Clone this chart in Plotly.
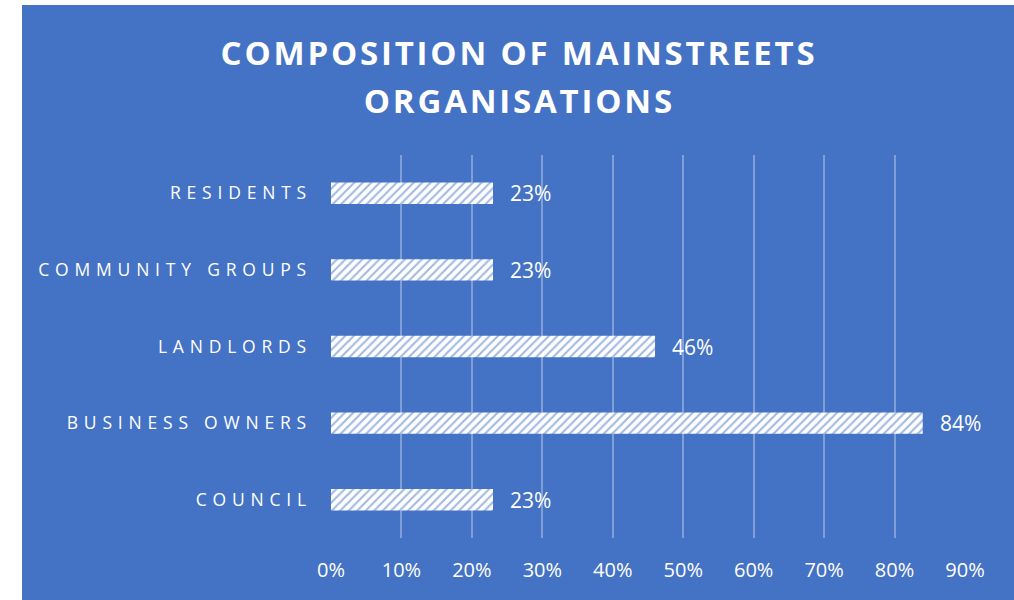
import plotly.graph_objects as go

categories = ["COUNCIL", "BUSINESS OWNERS", "LANDLORDS", "COMMUNITY GROUPS", "RESIDENTS"]
values = [0.23, 0.84, 0.46, 0.23, 0.23]
value_labels = ["23%", "84%", "46%", "23%", "23%"]
tick_vals = [0, 0.1, 0.2, 0.3, 0.4, 0.5, 0.6, 0.7, 0.8, 0.9]
tick_text = ["0%", "10%", "20%", "30%", "40%", "50%", "60%", "70%", "80%", "90%"]
title_lines = ["COMPOSITION OF MAINSTREETS", "ORGANISATIONS"]

BLUE = "#4472C4"
W, H = 1014, 600
L, R, T, B = 331, 49, 155, 62
pw, ph = W - L - R, H - T - B

fig = go.Figure(go.Bar(
    y=categories, x=values, orientation="h",
    marker=dict(color="white", line=dict(width=0),
                pattern=dict(shape="/", fgcolor=BLUE, bgcolor="white", size=6, solidity=0.35)),
))

for c, v, t in zip(categories, values, value_labels):
    fig.add_annotation(x=v, y=c, text=t, xanchor="left", xshift=15, showarrow=False,
                       font=dict(color="white", size=21, family="Open Sans"))

fig.add_shape(type="rect", xref="paper", yref="paper", layer="below",
              x0=(22 - L) / pw, x1=(W + 2 - L) / pw,
              y0=-(B + 2) / ph, y1=(H - B - 5) / ph,
              fillcolor=BLUE, line=dict(width=0))

for i, (line, ypix) in enumerate(zip(title_lines, [52, 100])):
    fig.add_annotation(xref="paper", yref="paper", x=(519 - L) / pw, y=(H - B - ypix) / ph,
                       xanchor="center", yanchor="middle", showarrow=False,
                       text="<b>" + line + "</b>",
                       font=dict(color="white", size=33, family="Open Sans"))

fig.update_layout(
    width=W, height=H,
    margin=dict(l=L, r=R, t=T, b=B),
    paper_bgcolor="white", plot_bgcolor=BLUE,
    bargap=0.72,
    showlegend=False,
    xaxis=dict(range=[0, 0.9], tickvals=tick_vals, ticktext=tick_text,
               showgrid=True, gridcolor="rgba(255,255,255,0.32)", gridwidth=2,
               zeroline=False, showline=False,
               tickfont=dict(color="white", size=20, family="Open Sans"),
               ticks="", ticklabelstandoff=18),
    yaxis=dict(showgrid=False, zeroline=False, showline=False, ticks="",
               tickfont=dict(color="white", size=17.5, family="Open Sans"),
               ticklabelstandoff=18),
)

post = """
function ls(){document.querySelectorAll('.ytick text').forEach(function(t){t.style.letterSpacing='5.8px';});
document.querySelectorAll('.annotation-text').forEach(function(t){ if(t.textContent.length>5){t.style.letterSpacing='2.8px';}});}
ls(); setTimeout(ls, 50);
"""
fig.write_html("out.html", post_script=post)
